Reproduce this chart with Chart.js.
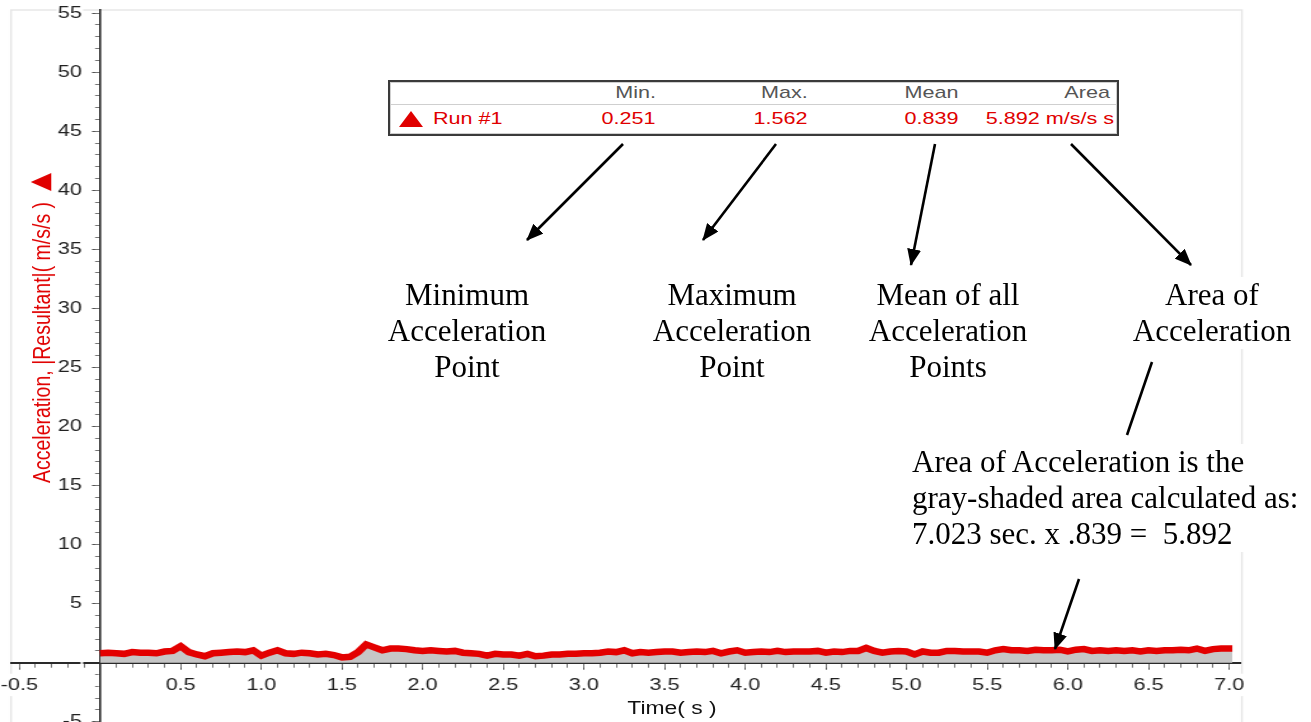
<!DOCTYPE html>
<html>
<head>
<meta charset="utf-8">
<script src="https://cdn.jsdelivr.net/npm/chart.js@4.4.1/dist/chart.umd.min.js"></script>
<style>
  html, body { margin: 0; padding: 0; background: #fff; }
  #wrap { position: relative; width: 1311px; height: 722px; overflow: hidden; background: #fff; }
  .ann { position: absolute; font-family: "Liberation Serif", "Times New Roman", serif; font-size: 31px; line-height: 36px; color: #000; text-align: center; white-space: nowrap; }
  .stx { position: absolute; font-family: "Liberation Sans", Arial, sans-serif; font-size: 17px; white-space: nowrap; line-height: 20px; }
  .r { transform-origin: 100% 50%; transform: scaleX(1.27); }
  .l { transform-origin: 0 50%; transform: scaleX(1.27); }
</style>
</head>
<body>
<div id="wrap">
  <canvas id="c" width="1032" height="722" style="position:absolute;left:0;top:0;width:1311px;height:722px;"></canvas>

  <!-- y axis title -->
  <div id="ytitle" style="position:absolute;left:0;top:0;transform-origin:0 0;transform:translate(41px,328px) scaleX(1.27) rotate(-90deg) translate(-50%,-50%);white-space:nowrap;display:flex;align-items:center;font-family:'Liberation Sans',Arial,sans-serif;font-size:19.5px;line-height:22px;color:#e00000;">
    <span>Acceleration, |Resultant|( m/s/s )</span><span style="display:inline-block;margin-left:11px;width:0;height:0;border-left:9px solid transparent;border-right:9px solid transparent;border-bottom:16px solid #e00000;"></span>
  </div>

  <!-- x axis title -->
  <div style="position:absolute;left:672px;top:708px;transform:translate(-50%,-50%) scaleX(1.27);font-family:'Liberation Sans',Arial,sans-serif;font-size:18px;color:#111;white-space:nowrap;">Time( s )</div>

  <!-- statistics box -->
  <div style="position:absolute;left:388px;top:80px;width:731px;height:56px;box-sizing:border-box;border:2px solid #3a3a3a;box-shadow:inset 0 0 0 1px #cfcfcf;background:#fff;"></div>
  <div style="position:absolute;left:390px;top:104px;width:727px;height:1px;background:#cfcfcf;"></div>
  <div class="stx r" style="right:655px;top:83px;color:#555;">Min.</div>
  <div class="stx r" style="right:503px;top:83px;color:#555;">Max.</div>
  <div class="stx r" style="right:352px;top:83px;color:#555;">Mean</div>
  <div class="stx r" style="right:201px;top:83px;color:#555;">Area</div>
  <div style="position:absolute;left:399px;top:111px;width:0;height:0;border-left:12px solid transparent;border-right:12px solid transparent;border-bottom:16px solid #e00000;"></div>
  <div class="stx l" style="left:433px;top:109px;color:#e00000;">Run #1</div>
  <div class="stx r" style="right:655px;top:109px;color:#e00000;">0.251</div>
  <div class="stx r" style="right:503px;top:109px;color:#e00000;">1.562</div>
  <div class="stx r" style="right:352px;top:109px;color:#e00000;">0.839</div>
  <div class="stx r" style="right:197px;top:109px;color:#e00000;">5.892 m/s/s s</div>

  <!-- annotations -->
  <div class="ann" style="left:317px;top:277px;width:300px;">Minimum<br>Acceleration<br>Point</div>
  <div class="ann" style="left:582px;top:277px;width:300px;">Maximum<br>Acceleration<br>Point</div>
  <div class="ann" style="left:798px;top:277px;width:300px;">Mean of all<br>Acceleration<br>Points</div>
  <div class="ann" style="left:1122px;top:277px;width:180px;background:#fff;">Area of<br>Acceleration</div>
  <div class="ann" style="left:908px;top:444px;text-align:left;background:#fff;padding-left:4px;">Area of Acceleration is the<br>gray-shaded area calculated as:<br>7.023 sec. x .839 =&nbsp; 5.892</div>

  <svg width="1311" height="722" style="position:absolute;left:0;top:0;pointer-events:none;">
    <defs>
      <marker id="ah" markerWidth="17" markerHeight="14" refX="16" refY="7" orient="auto" markerUnits="userSpaceOnUse">
        <path d="M0,0 L17,7 L0,14 z" fill="#000"/>
      </marker>
    </defs>
    <g stroke="#000" stroke-width="2.6" fill="none">
      <line x1="623" y1="144" x2="527" y2="240" marker-end="url(#ah)"/>
      <line x1="776" y1="144" x2="703" y2="240" marker-end="url(#ah)"/>
      <line x1="935" y1="144" x2="911" y2="265" marker-end="url(#ah)"/>
      <line x1="1071" y1="144" x2="1191" y2="265" marker-end="url(#ah)"/>
      <line x1="1152" y1="362" x2="1127" y2="435"/>
      <line x1="1079" y1="579" x2="1055" y2="649" marker-end="url(#ah)"/>
    </g>
  </svg>
</div>

<script>
// ---- data ----
const times = [
  0.00, 0.05, 0.10, 0.15, 0.20, 0.25, 0.30, 0.35, 0.40, 0.45,
  0.50, 0.55, 0.60, 0.65, 0.70, 0.75, 0.80, 0.85, 0.90, 0.95,
  1.00, 1.05, 1.10, 1.15, 1.20, 1.25, 1.30, 1.35, 1.40, 1.45,
  1.50, 1.55, 1.60, 1.65, 1.70, 1.75, 1.80, 1.85, 1.90, 1.95,
  2.00, 2.05, 2.10, 2.15, 2.20, 2.25, 2.30, 2.35, 2.40, 2.45,
  2.50, 2.55, 2.60, 2.65, 2.70, 2.75, 2.80, 2.85, 2.90, 2.95,
  3.00, 3.05, 3.10, 3.15, 3.20, 3.25, 3.30, 3.35, 3.40, 3.45,
  3.50, 3.55, 3.60, 3.65, 3.70, 3.75, 3.80, 3.85, 3.90, 3.95,
  4.00, 4.05, 4.10, 4.15, 4.20, 4.25, 4.30, 4.35, 4.40, 4.45,
  4.50, 4.55, 4.60, 4.65, 4.70, 4.75, 4.80, 4.85, 4.90, 4.95,
  5.00, 5.05, 5.10, 5.15, 5.20, 5.25, 5.30, 5.35, 5.40, 5.45,
  5.50, 5.55, 5.60, 5.65, 5.70, 5.75, 5.80, 5.85, 5.90, 5.95,
  6.00, 6.05, 6.10, 6.15, 6.20, 6.25, 6.30, 6.35, 6.40, 6.45,
  6.50, 6.55, 6.60, 6.65, 6.70, 6.75, 6.80, 6.85, 6.90, 6.95,
  7.00, 7.02
];
const acceleration = [
  0.80, 0.85, 0.80, 0.75, 0.90, 0.85, 0.85, 0.80, 0.95, 1.00,
  1.40, 0.90, 0.70, 0.55, 0.80, 0.85, 0.90, 0.95, 0.90, 1.05,
  0.60, 0.85, 1.05, 0.80, 0.75, 0.85, 0.80, 0.70, 0.75, 0.65,
  0.45, 0.50, 0.90, 1.55, 1.30, 1.05, 1.20, 1.20, 1.15, 1.05,
  1.00, 1.05, 1.00, 0.95, 1.00, 0.85, 0.80, 0.75, 0.60, 0.75,
  0.70, 0.70, 0.60, 0.75, 0.55, 0.60, 0.70, 0.70, 0.75, 0.75,
  0.80, 0.80, 0.85, 0.95, 0.90, 1.05, 0.80, 0.90, 0.85, 0.90,
  0.95, 0.95, 0.85, 0.90, 0.95, 0.90, 1.00, 0.80, 0.95, 1.05,
  0.85, 0.90, 0.95, 0.90, 1.00, 0.90, 0.95, 0.95, 0.95, 1.00,
  0.85, 0.95, 0.90, 1.00, 1.00, 1.25, 1.00, 0.85, 0.95, 1.00,
  0.95, 0.70, 0.95, 0.85, 0.85, 1.00, 1.00, 0.95, 0.95, 0.95,
  0.85, 1.05, 1.15, 1.05, 1.05, 1.00, 1.10, 1.05, 1.05, 1.10,
  0.95, 1.10, 1.15, 1.00, 1.05, 1.00, 1.05, 1.00, 1.05, 0.95,
  1.05, 1.00, 1.05, 1.05, 1.10, 1.05, 1.20, 1.00, 1.15, 1.20,
  1.20, 1.20
];
const seriesLabel = 'Run #1';
const xMajorStep = 0.5;
const xMinorStep = 0.1;
const yMajorStep = 5;
const yMinorStep = 1;
const xMin = -0.5518, xMax = 7.0676;
const yMin = -5.02, yMax = 55.27;

// ---- chart ----
const points = times.map((t, i) => ({ x: t, y: acceleration[i] }));

function zeroFit(s) {
  if (s.isHorizontal()) s.height = 0; else s.width = 0;
  s.paddingLeft = 0; s.paddingRight = 0; s.paddingTop = 0; s.paddingBottom = 0;
}

const axisPlacer = {
  id: 'axisPlacer',
  afterLayout(chart) {
    const x0 = chart.scales.x.getPixelForValue(0);
    const y0 = chart.scales.y.getPixelForValue(0);
    ['y', 'yMinor'].forEach(id => { const s = chart.scales[id]; s.left = 0; s.right = x0; });
    ['x', 'xMinor'].forEach(id => { const s = chart.scales[id]; s.top = y0; s.bottom = chart.height; });
  },
  beforeDraw(chart) {
    const { ctx, chartArea: a } = chart;
    ctx.save();
    ctx.fillStyle = '#fff';
    ctx.fillRect(0, 0, chart.width, chart.height);
    ctx.strokeStyle = '#e6e6e6';
    ctx.lineWidth = 1.4;
    ctx.strokeRect(a.left, a.top, a.right - a.left + 1.5, a.bottom - a.top + 2);
    ctx.restore();
  }
};

const tickFont = { family: 'Liberation Sans', size: 17 };

new Chart(document.getElementById('c'), {
  type: 'line',
  data: {
    datasets: [{
      label: seriesLabel,
      data: points,
      xAxisID: 'x',
      yAxisID: 'y',
      borderColor: '#e30000',
      borderWidth: 6.5,
      backgroundColor: '#c6c6c6',
      fill: 'origin',
      pointRadius: 0,
      tension: 0
    }]
  },
  options: {
    responsive: false,
    animation: false,
    events: [],
    layout: { autoPadding: false, padding: { left: 8.66, right: 55.9, top: 10, bottom: 0 } },
    plugins: { legend: { display: false }, tooltip: { enabled: false }, title: { display: false } },
    scales: {
      x: {
        type: 'linear', position: 'bottom', min: xMin, max: xMax, afterFit: zeroFit,
        ticks: {
          stepSize: xMajorStep, includeBounds: false, autoSkip: false, maxRotation: 0, minRotation: 0,
          padding: 5, font: tickFont, color: '#222',
          showLabelBackdrop: true, backdropColor: '#fff', backdropPadding: 1,
          callback: v => Math.abs(v) < 1e-9 ? '' : Number(v).toFixed(1)
        },
        grid: { drawOnChartArea: false, drawTicks: true, tickLength: 7, tickColor: '#555', tickWidth: 1 },
        border: { display: true, color: '#2a2a2a', width: 2 }
      },
      xMinor: {
        type: 'linear', position: 'bottom', min: xMin, max: xMax, afterFit: zeroFit,
        ticks: { stepSize: xMinorStep, includeBounds: false, autoSkip: false, display: false },
        grid: { drawOnChartArea: false, drawTicks: true, tickLength: 5, tickColor: '#777', tickWidth: 1 },
        border: { display: false }
      },
      y: {
        type: 'linear', position: 'left', min: yMin, max: yMax, afterFit: zeroFit,
        ticks: {
          stepSize: yMajorStep, includeBounds: false, autoSkip: false,
          padding: 8, font: tickFont, color: '#222',
          showLabelBackdrop: true, backdropColor: '#fff', backdropPadding: 1,
          callback: v => Math.abs(v) < 1e-9 ? '' : String(Math.round(v))
        },
        grid: { drawOnChartArea: false, drawTicks: true, tickLength: 6.3, tickColor: '#555', tickWidth: 1 },
        border: { display: true, color: '#2a2a2a', width: 1.6 }
      },
      yMinor: {
        type: 'linear', position: 'left', min: yMin, max: yMax, afterFit: zeroFit,
        ticks: { stepSize: yMinorStep, includeBounds: false, autoSkip: false, display: false },
        grid: { drawOnChartArea: false, drawTicks: true, tickLength: 3.9, tickColor: '#777', tickWidth: 1 },
        border: { display: false }
      }
    }
  },
  plugins: [axisPlacer]
});
</script>
</body>
</html>
